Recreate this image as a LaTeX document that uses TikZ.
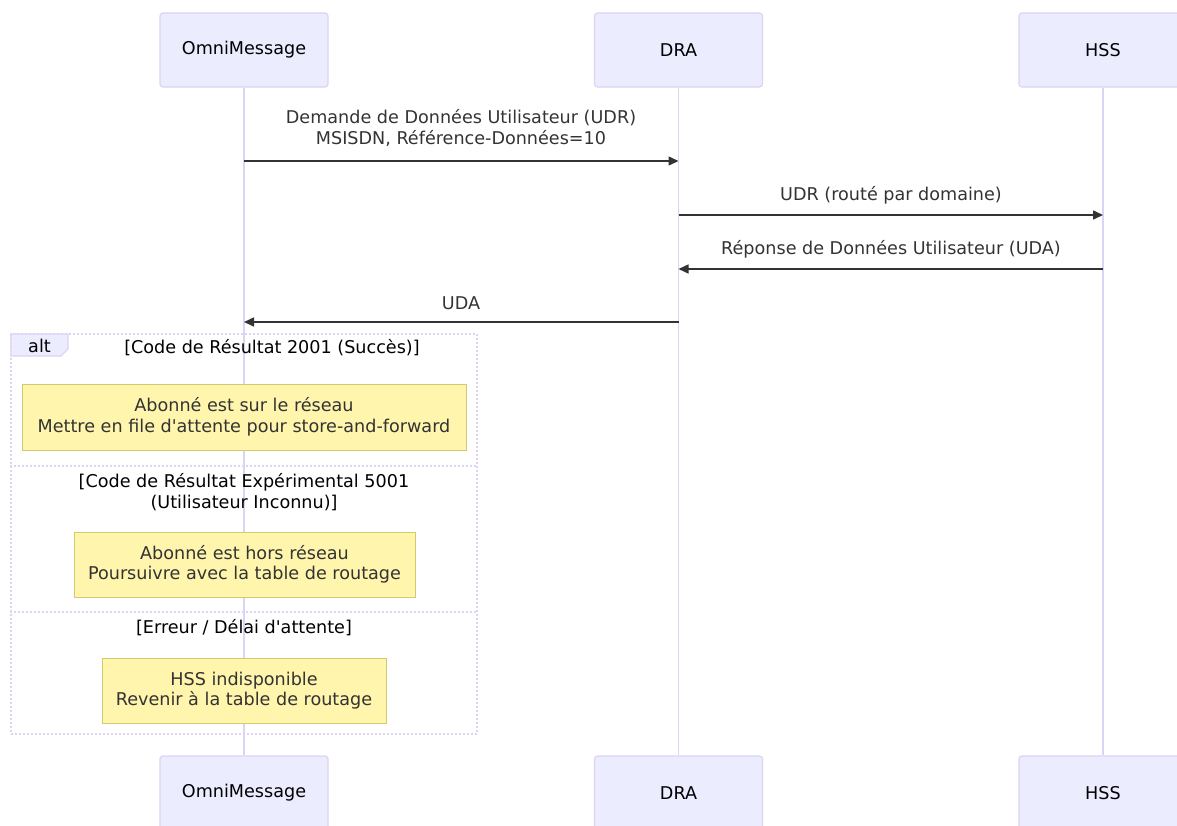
\documentclass[tikz,border=0pt]{standalone}
\usepackage{fontspec}
\setmainfont{DejaVu Sans}
\usetikzlibrary{arrows.meta,backgrounds}
\definecolor{actorfill}{HTML}{ECECFF}
\definecolor{actorline}{HTML}{DCD3F5}
\definecolor{msgcol}{HTML}{333333}
\definecolor{notefill}{HTML}{FFF5AD}
\definecolor{noteline}{HTML}{D2CB6C}
\tikzset{
  actor/.style={draw=actorline, fill=actorfill, line width=1.2pt, rounded corners=3pt,
    minimum width=168pt, minimum height=74pt, inner sep=0pt, text=black},
  lifeline/.style={draw=actorline, line width=1.5pt},
  msgline/.style={draw=msgcol, line width=1.5pt, -{Triangle[length=10pt,width=9pt]}},
  msglabel/.style={text=msgcol, align=center, inner sep=0pt},
  notebox/.style={draw=noteline, fill=notefill, line width=1pt, align=center,
    inner sep=0pt, text=msgcol},
  framebox/.style={draw=actorline, line width=1.5pt, dash pattern=on 2pt off 2pt},
  sectlabel/.style={text=black, align=center, inner sep=0pt},
}
\newcommand{\apos}{\textquotesingle}
\begin{document}
\begin{tikzpicture}[x=1pt,y=-1pt,font=\fontsize{17.6}{20.5}\selectfont]
\useasboundingbox (0,0) rectangle (1177,825);
\clip (0,0) rectangle (1177,825);

% participants, top and bottom
\node[actor] (om)  at (244,50)   {OmniMessage};
\node[actor] (dra) at (678.5,50) {DRA};
\node[actor] (hss) at (1103,50)  {HSS};
\node[actor] (omb)  at (244,793)   {OmniMessage};
\node[actor] (drab) at (678.5,793) {DRA};
\node[actor] (hssb) at (1103,793)  {HSS};

% lifelines
\begin{scope}[on background layer]
\draw[lifeline] (om.south) -- (omb.north);
\draw[lifeline] (dra.south) -- (drab.north);
\draw[lifeline] (hss.south) -- (hssb.north);
\end{scope}

% message anchor points on the lifelines
\coordinate (o1) at (244,161);   \coordinate (d1) at (678.5,161);
\coordinate (d2) at (678.5,215); \coordinate (h2) at (1103,215);
\coordinate (h3) at (1103,269);  \coordinate (d3) at (678.5,269);
\coordinate (d4) at (678.5,322); \coordinate (o4) at (244,322);

% messages
\draw[msgline] (o1) -- (d1);
\node[msglabel] (l1) at (461,128) {Demande de Données Utilisateur (UDR)\\MSISDN, Référence-Données=10};
\draw[msgline] (d2) -- (h2);
\node[msglabel] (l2) at (891,195) {UDR (routé par domaine)};
\draw[msgline] (h3) -- (d3);
\node[msglabel] (l3) at (891,249) {Réponse de Données Utilisateur (UDA)};
\draw[msgline] (d4) -- (o4);
\node[msglabel] (l4) at (461,303) {UDA};

% alt block
\node[framebox, minimum width=466pt, minimum height=400pt, inner sep=0pt] (alt) at (244,534) {};
\draw[draw=actorline, fill=actorfill, line width=1.2pt]
  (11,334) -- (68,334) -- (68,349) -- (61,356) -- (11,356) -- cycle;
\node[sectlabel] (altlbl) at (39.5,346) {alt};
\node[sectlabel] (c1) at (272,348) {[Code de Résultat 2001 (Succès)]};
\draw[framebox] (alt.west |- 0,466) -- (alt.east |- 0,466);
\node[sectlabel] (c2) at (244,492) {[Code de Résultat Expérimental 5001\\(Utilisateur Inconnu)]};
\draw[framebox] (alt.west |- 0,612) -- (alt.east |- 0,612);
\node[sectlabel] (c3) at (244,628) {[Erreur / Délai d\apos attente]};

% notes
\node[notebox, minimum width=444pt, minimum height=66pt] (n1) at (244,417)
  {Abonné est sur le réseau\\Mettre en file d\apos attente pour store-and-forward};
\node[notebox, minimum width=341pt, minimum height=65pt] (n2) at (244.5,564.5)
  {Abonné est hors réseau\\Poursuivre avec la table de routage};
\node[notebox, minimum width=284pt, minimum height=65pt] (n3) at (244,690.5)
  {HSS indisponible\\Revenir à la table de routage};
\end{tikzpicture}
\end{document}
